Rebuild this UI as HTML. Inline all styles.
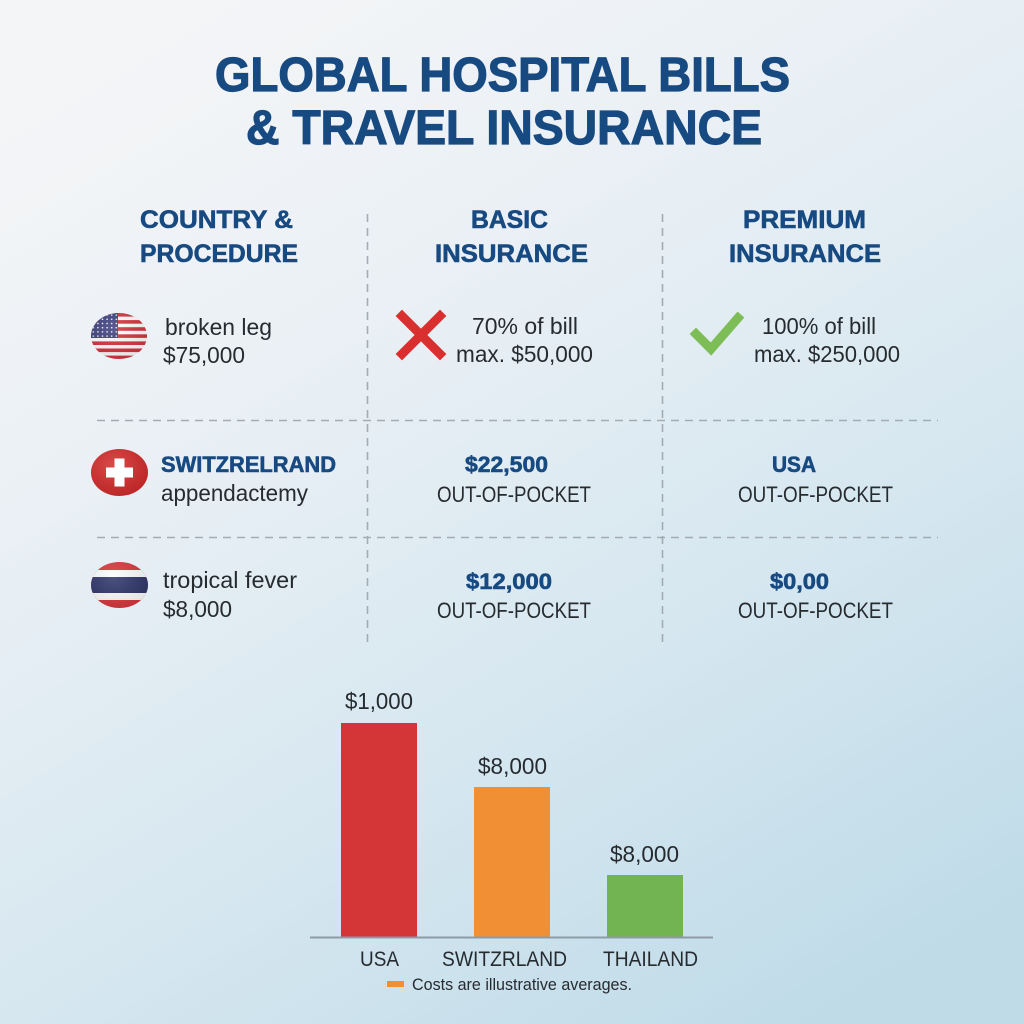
<!DOCTYPE html>
<html>
<head>
<meta charset="utf-8">
<style>
html,body{margin:0;padding:0;width:1024px;height:1024px;overflow:hidden;}
svg{display:block;}
text{font-family:"Liberation Sans",sans-serif;}
.t{fill:#184a82;font-weight:bold;}
.h{stroke:#184a82;stroke-width:1.2;}
.h2{stroke:#184a82;stroke-width:0.6;}
.b{fill:#262b30;}
</style>
</head>
<body>
<svg width="1024" height="1024" viewBox="0 0 1024 1024" xmlns="http://www.w3.org/2000/svg">
<defs>
<linearGradient id="bg" x1="0.2" y1="0" x2="0.8" y2="1">
<stop offset="0" stop-color="#f4f5f7"/>
<stop offset="0.3" stop-color="#eaf0f5"/>
<stop offset="0.65" stop-color="#d6e7f0"/>
<stop offset="1" stop-color="#bfdbe8"/>
</linearGradient>
<clipPath id="us"><ellipse cx="119" cy="336" rx="28" ry="23"/></clipPath>
<clipPath id="th"><ellipse cx="119.5" cy="585" rx="28.5" ry="23"/></clipPath>
<pattern id="stars" patternUnits="userSpaceOnUse" x="91" y="313" width="4.6" height="4.2">
<circle cx="2.3" cy="2.1" r="0.8" fill="#ffffff"/>
</pattern>
<radialGradient id="shade" cx="0.4" cy="0.35" r="0.7">
<stop offset="0" stop-color="#ffffff" stop-opacity="0.15"/>
<stop offset="1" stop-color="#000000" stop-opacity="0.12"/>
</radialGradient>
</defs>
<rect x="0" y="0" width="1024" height="1024" fill="url(#bg)"/>

<!-- Title -->
<text class="t h" x="215" y="91" font-size="48" textLength="575" lengthAdjust="spacingAndGlyphs">GLOBAL HOSPITAL BILLS</text>
<text class="t h" x="246" y="144" font-size="48" textLength="516" lengthAdjust="spacingAndGlyphs">&amp; TRAVEL INSURANCE</text>

<!-- Headers -->
<text class="t h2" x="140" y="228" font-size="25" textLength="153" lengthAdjust="spacingAndGlyphs">COUNTRY &amp;</text>
<text class="t h2" x="140" y="262" font-size="25" textLength="158" lengthAdjust="spacingAndGlyphs">PROCEDURE</text>
<text class="t h2" x="471" y="228" font-size="25" textLength="77" lengthAdjust="spacingAndGlyphs">BASIC</text>
<text class="t h2" x="435" y="262" font-size="25" textLength="153" lengthAdjust="spacingAndGlyphs">INSURANCE</text>
<text class="t h2" x="743" y="228" font-size="25" textLength="123" lengthAdjust="spacingAndGlyphs">PREMIUM</text>
<text class="t h2" x="729" y="262" font-size="25" textLength="152" lengthAdjust="spacingAndGlyphs">INSURANCE</text>

<!-- Grid dashed lines -->
<g stroke="#a3abb3" stroke-width="1.6" stroke-dasharray="8 6" fill="none">
<line x1="367.5" y1="214" x2="367.5" y2="642"/>
<line x1="662.5" y1="214" x2="662.5" y2="642"/>
<line x1="97" y1="420.5" x2="938" y2="420.5"/>
<line x1="97" y1="537.5" x2="938" y2="537.5"/>
</g>

<!-- US flag -->
<g clip-path="url(#us)">
<rect x="88" y="310" width="64" height="52" fill="#ffffff"/>
<rect x="88" y="313" width="64" height="3.6" fill="#d2323a"/>
<rect x="88" y="320.1" width="64" height="3.6" fill="#d2323a"/>
<rect x="88" y="327.2" width="64" height="3.6" fill="#d2323a"/>
<rect x="88" y="334.3" width="64" height="3.6" fill="#d2323a"/>
<rect x="88" y="341.4" width="64" height="3.6" fill="#d2323a"/>
<rect x="88" y="348.5" width="64" height="3.6" fill="#d2323a"/>
<rect x="88" y="355.6" width="64" height="4" fill="#d2323a"/>
<rect x="88" y="310" width="30" height="28" fill="#3b3f7d"/>
<rect x="88" y="310" width="30" height="28" fill="url(#stars)"/>
<rect x="88" y="310" width="64" height="52" fill="url(#shade)"/>
</g>
<text class="b" x="165" y="335" font-size="23" textLength="107" lengthAdjust="spacingAndGlyphs">broken leg</text>
<text class="b" x="163" y="363" font-size="23" textLength="82" lengthAdjust="spacingAndGlyphs">$75,000</text>

<!-- X mark -->
<g stroke="#d9302f" stroke-width="9" stroke-linecap="square">
<line x1="402" y1="316" x2="440" y2="354"/>
<line x1="440" y1="316" x2="402" y2="354"/>
</g>
<text class="b" x="472" y="334" font-size="23" textLength="106" lengthAdjust="spacingAndGlyphs">70% of bill</text>
<text class="b" x="456" y="362" font-size="23" textLength="137" lengthAdjust="spacingAndGlyphs">max. $50,000</text>

<!-- Check mark -->
<polyline points="696,334 711,349 738,318" fill="none" stroke="#7dbd55" stroke-width="9" stroke-linecap="square" stroke-linejoin="miter"/>
<text class="b" x="762" y="334" font-size="23" textLength="114" lengthAdjust="spacingAndGlyphs">100% of bill</text>
<text class="b" x="754" y="362" font-size="23" textLength="146" lengthAdjust="spacingAndGlyphs">max. $250,000</text>

<!-- Swiss flag -->
<ellipse cx="119.5" cy="472.5" rx="28.5" ry="23.5" fill="#d52b2b"/>
<ellipse cx="119.5" cy="472.5" rx="28.5" ry="23.5" fill="url(#shade)"/>
<rect x="114.5" y="458.5" width="10" height="28" fill="#ffffff"/>
<rect x="106" y="467.5" width="27" height="10" fill="#ffffff"/>
<text class="t h2" x="161" y="472" font-size="22" textLength="175" lengthAdjust="spacingAndGlyphs">SWITZRELRAND</text>
<text class="b" x="161" y="501" font-size="23" textLength="147" lengthAdjust="spacingAndGlyphs">appendactemy</text>

<text class="t h2" x="465" y="472" font-size="22" textLength="83" lengthAdjust="spacingAndGlyphs">$22,500</text>
<text class="b" x="437" y="502" font-size="22" textLength="154" lengthAdjust="spacingAndGlyphs">OUT-OF-POCKET</text>
<text class="t h2" x="772" y="472" font-size="22" textLength="44" lengthAdjust="spacingAndGlyphs">USA</text>
<text class="b" x="738" y="502" font-size="22" textLength="155" lengthAdjust="spacingAndGlyphs">OUT-OF-POCKET</text>

<!-- Thai flag -->
<g clip-path="url(#th)">
<rect x="88" y="558" width="64" height="54" fill="#d8343a"/>
<rect x="88" y="570" width="64" height="30" fill="#ffffff"/>
<rect x="88" y="577" width="64" height="16" fill="#2d3468"/>
<rect x="88" y="558" width="64" height="54" fill="url(#shade)"/>
</g>
<text class="b" x="163" y="588" font-size="23" textLength="134" lengthAdjust="spacingAndGlyphs">tropical fever</text>
<text class="b" x="163" y="617" font-size="23" textLength="69" lengthAdjust="spacingAndGlyphs">$8,000</text>

<text class="t h2" x="466" y="589" font-size="22" textLength="86" lengthAdjust="spacingAndGlyphs">$12,000</text>
<text class="b" x="437" y="618" font-size="22" textLength="154" lengthAdjust="spacingAndGlyphs">OUT-OF-POCKET</text>
<text class="t h2" x="770" y="589" font-size="22" textLength="59" lengthAdjust="spacingAndGlyphs">$0,00</text>
<text class="b" x="738" y="618" font-size="22" textLength="155" lengthAdjust="spacingAndGlyphs">OUT-OF-POCKET</text>

<!-- Bar chart -->
<rect x="341" y="723" width="76" height="214" fill="#d43637"/>
<rect x="474" y="787" width="76" height="150" fill="#f08f33"/>
<rect x="607" y="875" width="76" height="62" fill="#72b452"/>
<line x1="310" y1="937.5" x2="713" y2="937.5" stroke="#8d9ba6" stroke-width="2"/>

<text class="b" x="345" y="709" font-size="23" textLength="68" lengthAdjust="spacingAndGlyphs">$1,000</text>
<text class="b" x="478" y="774" font-size="23" textLength="69" lengthAdjust="spacingAndGlyphs">$8,000</text>
<text class="b" x="610" y="862" font-size="23" textLength="69" lengthAdjust="spacingAndGlyphs">$8,000</text>

<text class="b" x="360" y="966" font-size="21" textLength="39" lengthAdjust="spacingAndGlyphs">USA</text>
<text class="b" x="442" y="966" font-size="21" textLength="125" lengthAdjust="spacingAndGlyphs">SWITZRLAND</text>
<text class="b" x="603" y="966" font-size="21" textLength="95" lengthAdjust="spacingAndGlyphs">THAILAND</text>

<rect x="387" y="981" width="17" height="6" fill="#f08f33"/>
<text class="b" x="412" y="990" font-size="17" textLength="220" lengthAdjust="spacingAndGlyphs">Costs are illustrative averages.</text>
</svg>
</body>
</html>
